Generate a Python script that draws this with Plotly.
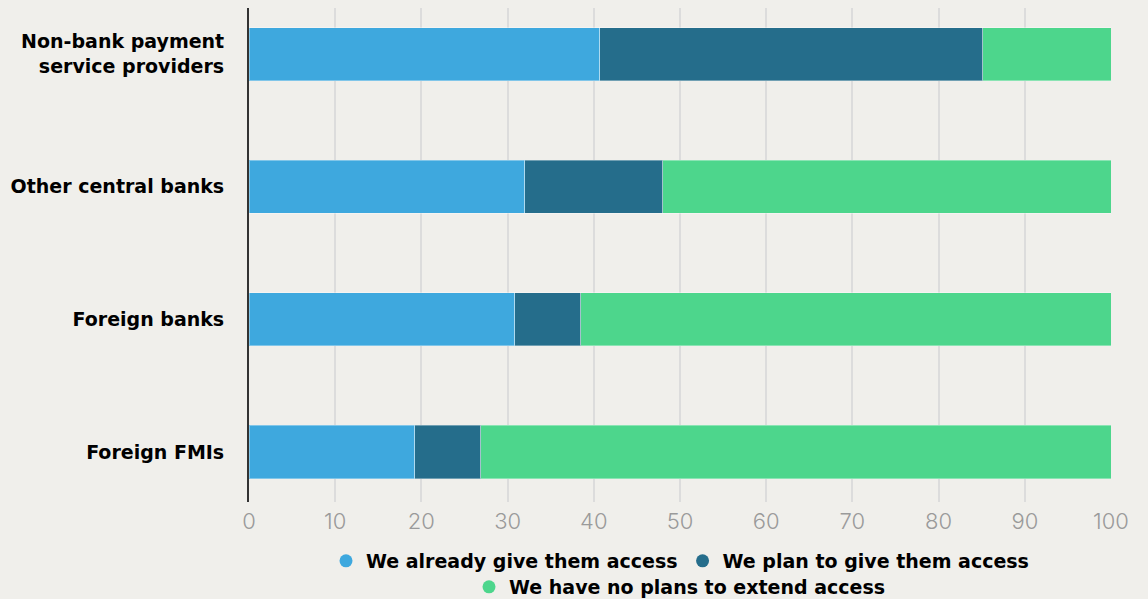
import plotly.graph_objects as go

# Survey shares (%) per counterparty type, top to bottom
categories = [
    "Non-bank payment<br>service providers",
    "Other central banks",
    "Foreign banks",
    "Foreign FMIs",
]
already_access = [40.7, 32.0, 30.8, 19.2]
plan_access = [44.4, 16.0, 7.7, 7.7]
no_plans = [14.9, 52.0, 61.5, 73.1]

series_names = [
    "We already give them access",
    "We plan to give them access",
    "We have no plans to extend access",
]
series_colors = ["#3ea8de", "#256d8b", "#4dd68c"]
legend_slots = ["legend", "legend", "legend2"]
x_ticks = list(range(0, 101, 10))

# numeric positions so the first category sits at the top
positions = list(range(len(categories) - 1, -1, -1))

BG = "#f0efeb"
LABEL_FONT = "DejaVu Sans"
fig = go.Figure()
for name, vals, color in zip(series_names, [already_access, plan_access, no_plans], series_colors):
    fig.add_trace(
        go.Bar(
            x=vals,
            y=positions,
            name=name,
            orientation="h",
            width=0.4,
            marker=dict(color=color, line=dict(color="rgba(255,255,255,0.35)", width=1)),
            showlegend=False,
        )
    )

# round legend keys
for name, color, slot in zip(series_names, series_colors, legend_slots):
    fig.add_trace(
        go.Scatter(
            x=[None],
            y=[None],
            mode="markers",
            name=name,
            marker=dict(color=color, size=13, symbol="circle"),
            legend=slot,
            hoverinfo="skip",
        )
    )

legend_font = dict(family=LABEL_FONT, size=19, color="#000000", weight=700)
fig.update_layout(
    width=1148,
    height=599,
    paper_bgcolor=BG,
    plot_bgcolor=BG,
    margin=dict(l=249, r=37, t=8, b=97, autoexpand=False),
    barmode="stack",
    showlegend=True,
    legend=dict(
        orientation="h",
        x=0.5,
        xanchor="center",
        xref="paper",
        y=1 - 561 / 599,
        yref="container",
        yanchor="middle",
        font=legend_font,
        bgcolor="rgba(0,0,0,0)",
        traceorder="normal",
        itemwidth=30,
    ),
    legend2=dict(
        orientation="h",
        x=0.5,
        xanchor="center",
        xref="paper",
        y=1 - 587 / 599,
        yref="container",
        yanchor="middle",
        font=legend_font,
        bgcolor="rgba(0,0,0,0)",
        itemwidth=30,
    ),
    xaxis=dict(
        range=[0, 100],
        tickvals=x_ticks,
        ticktext=[str(t) for t in x_ticks],
        showgrid=True,
        gridcolor="#dcdcdc",
        gridwidth=2,
        zeroline=False,
        showline=False,
        ticks="",
        tickfont=dict(family="Inter", size=22, color="#9a9a9a", weight=300),
        ticklabelstandoff=4,
        fixedrange=True,
    ),
    yaxis=dict(
        range=[-0.377, 3.347],
        tickvals=positions,
        ticktext=categories,
        showgrid=False,
        zeroline=False,
        showline=True,
        linecolor="#333333",
        linewidth=2,
        ticks="",
        tickfont=dict(family=LABEL_FONT, size=19, color="#000000", weight=700),
        ticklabelstandoff=19,
        fixedrange=True,
    ),
)

fig.write_html("out.html")
